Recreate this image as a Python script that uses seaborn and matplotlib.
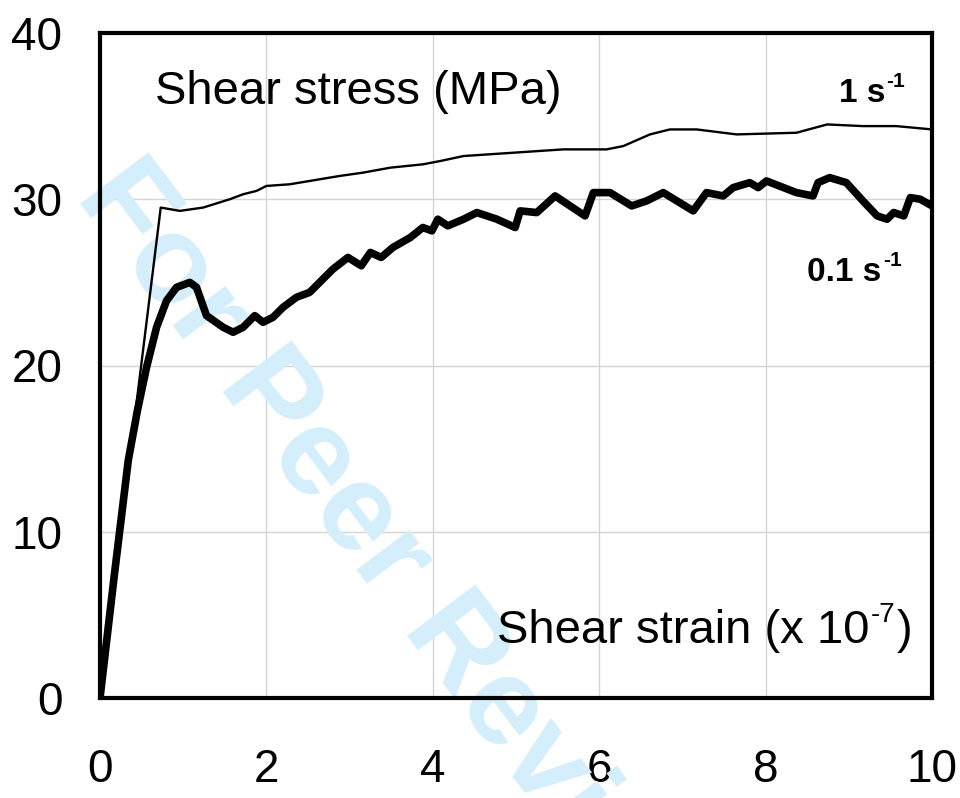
import matplotlib
matplotlib.use("Agg")
import matplotlib.pyplot as plt
import seaborn as sns
import pandas as pd
from matplotlib.ticker import MultipleLocator


# --------------------------------------------------
# Data (strain x 1e-7, stress MPa)
# --------------------------------------------------
strain_fast = [0, 0.73, 0.96, 1.24, 1.56, 1.72, 1.88, 2.0, 2.28, 2.52,
               2.88, 3.16, 3.49, 3.88, 4.09, 4.37, 4.97, 5.57, 6.09, 6.29,
               6.61, 6.85, 7.17, 7.65, 8.37, 8.74, 9.17, 9.57, 10.0]
stress_fast = [0, 29.5, 29.3, 29.5, 30.0, 30.3, 30.5, 30.8, 30.9, 31.1,
               31.4, 31.6, 31.9, 32.1, 32.3, 32.6, 32.8, 33.0, 33.0, 33.2,
               33.9, 34.2, 34.2, 33.9, 34.0, 34.5, 34.4, 34.4, 34.2]

strain_slow = [0, 0.17, 0.34, 0.45, 0.56, 0.68, 0.8, 0.92, 1.08, 1.16,
               1.28, 1.48, 1.6, 1.72, 1.86, 1.96, 2.08, 2.2, 2.36, 2.52,
               2.64, 2.8, 2.98, 3.14, 3.25, 3.38, 3.52, 3.73, 3.88, 3.99,
               4.06, 4.18, 4.37, 4.53, 4.77, 4.99, 5.05, 5.25, 5.47, 5.83,
               5.93, 6.13, 6.39, 6.57, 6.77, 7.13, 7.29, 7.49, 7.61, 7.81,
               7.91, 8.01, 8.37, 8.57, 8.63, 8.77, 8.97, 9.17, 9.34, 9.46,
               9.54, 9.66, 9.74, 9.86, 10.0]
stress_slow = [0, 7.3, 14.3, 17.3, 19.9, 22.3, 23.9, 24.7, 25.0, 24.7,
               23.0, 22.3, 22.0, 22.3, 23.0, 22.6, 22.9, 23.5, 24.1, 24.4,
               25.0, 25.8, 26.5, 26.0, 26.8, 26.5, 27.1, 27.7, 28.3, 28.1,
               28.8, 28.4, 28.8, 29.2, 28.8, 28.3, 29.3, 29.2, 30.2, 29.0,
               30.4, 30.4, 29.6, 29.9, 30.4, 29.3, 30.4, 30.2, 30.7, 31.0,
               30.7, 31.1, 30.4, 30.2, 31.0, 31.3, 31.0, 29.9, 29.0, 28.8,
               29.2, 29.0, 30.1, 30.0, 29.6]

x_ticks = [0, 2, 4, 6, 8, 10]
y_ticks = [0, 10, 20, 30, 40]

sns.set_style("white")
plt.rcParams['font.family'] = ['Liberation Sans', 'DejaVu Sans']
plt.rcParams['text.color'] = 'black'
plt.rcParams['xtick.color'] = 'black'
plt.rcParams['ytick.color'] = 'black'


def sup_label(ax, x, y, base, sup, size, sup_size, rise, weight='normal',
              tail=None):
    # base text, raised superscript, optional closing text
    t = ax.text(x, y, base, fontsize=size, fontweight=weight, ha='left',
                va='baseline', zorder=4)
    s = ax.annotate(sup, xy=(1, 0), xycoords=t, xytext=(1, rise),
                    textcoords='offset points', fontsize=sup_size,
                    fontweight=weight, ha='left', va='bottom', zorder=4)
    if tail:
        ax.annotate(tail, xy=(1, 0), xycoords=(s, t), xytext=(1, 0),
                    textcoords='offset points', fontsize=size,
                    fontweight=weight, ha='left', va='bottom', zorder=4)


fig = plt.figure(figsize=(9.6, 7.98), dpi=100)
ax = fig.add_axes([100 / 960, 1 - 698 / 798, 832 / 960, 665 / 798])

df_fast = pd.DataFrame({'strain': strain_fast, 'stress': stress_fast})
df_slow = pd.DataFrame({'strain': strain_slow, 'stress': stress_slow})

sns.lineplot(data=df_fast, x='strain', y='stress', ax=ax, color='black',
             linewidth=1.7, estimator=None, sort=False, zorder=3)
sns.lineplot(data=df_slow, x='strain', y='stress', ax=ax, color='black',
             linewidth=5.5, estimator=None, sort=False, zorder=3,
             solid_joinstyle='round', solid_capstyle='round')

ax.set_xlim(0, 10)
ax.set_ylim(0, 40)
ax.set_xticks(x_ticks)
ax.set_yticks(y_ticks)
ax.xaxis.set_minor_locator(MultipleLocator(0.5))
ax.yaxis.set_minor_locator(MultipleLocator(2))
ax.set_xlabel("")
ax.set_ylabel("")
ax.grid(True, which='major', color='#d4d4d4', linewidth=1.0)
ax.set_axisbelow(True)

for sp in ax.spines.values():
    sp.set_linewidth(3.0)
    sp.set_color('black')

ax.tick_params(which='major', direction='in', length=10, width=1.3,
               labelsize=33)
ax.tick_params(which='minor', direction='in', length=7, width=1.1)
ax.tick_params(axis='x', which='major', pad=36)
ax.tick_params(axis='y', which='major', pad=27)

# Annotations
ax.text(0.66, 35.7, "Shear stress (MPa)", fontsize=34, ha='left',
        va='baseline', zorder=4)
sup_label(ax, 4.77, 3.3, "Shear strain (x 10", "-7", 34, 20, 18, tail=")")
sup_label(ax, 8.88, 35.85, "1 s", "-1", 24, 15, 13, weight='bold')
sup_label(ax, 8.50, 25.1, "0.1 s", "-1", 24, 15, 13, weight='bold')

# Watermark
ax.text(-0.3, 30.2, "For Peer Review", fontsize=90, fontweight='bold',
        color='#d4eefb', rotation=-53, rotation_mode='anchor',
        ha='left', va='baseline', clip_on=False, zorder=1.5)

fig.savefig("out.png", dpi=100)
